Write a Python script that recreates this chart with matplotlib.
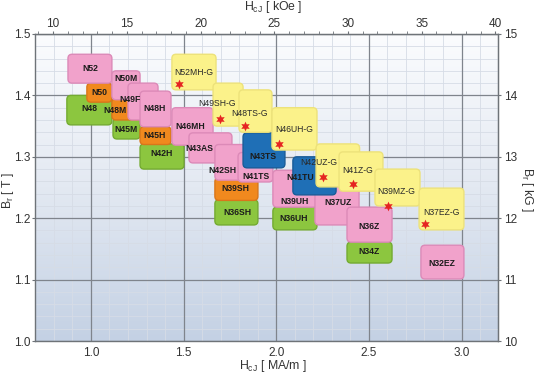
import numpy as np
import matplotlib
matplotlib.use('Agg')
import matplotlib.pyplot as plt
from matplotlib.patches import FancyBboxPatch
from matplotlib.colors import LinearSegmentedColormap
from matplotlib.ticker import MultipleLocator, FormatStrFormatter

plt.rcParams['font.family'] = ['Liberation Sans', 'DejaVu Sans']
plt.rcParams['mathtext.fontset'] = 'custom'
plt.rcParams['mathtext.rm'] = 'Liberation Sans'
plt.rcParams['mathtext.it'] = 'Liberation Sans'

# ---------------- data ----------------
names = ["N48", "N45M", "N42H", "N36SH", "N36UH", "N34Z",
         "N50", "N48M", "N45H", "N39SH",
         "N52", "N50M", "N49F", "N48H", "N46MH", "N43AS", "N42SH", "N41TS",
         "N39UH", "N37UZ", "N36Z", "N32EZ",
         "N43TS", "N41TU",
         "N52MH-G", "N49SH-G", "N48TS-G", "N46UH-G", "N42UZ-G", "N41Z-G",
         "N39MZ-G", "N37EZ-G"]
kinds = ["green"] * 6 + ["orange"] * 4 + ["pink"] * 12 + ["blue"] * 2 + ["yellow"] * 8
hcj_lo = [0.870, 1.119, 1.265, 1.669, 1.982, 2.382,
          0.978, 1.113, 1.265, 1.669,
          0.876, 1.113, 1.200, 1.265, 1.437, 1.529, 1.669, 1.794,
          1.982, 2.209, 2.382, 2.781,
          1.821, 2.090,
          1.437, 1.659, 1.799, 1.977, 2.215, 2.339, 2.533, 2.771]
hcj_hi = [1.113, 1.265, 1.502, 1.901, 2.220, 2.625,
          1.113, 1.265, 1.432, 1.901,
          1.113, 1.265, 1.362, 1.432, 1.659, 1.761, 1.901, 1.982,
          2.220, 2.447, 2.625, 3.013,
          2.047, 2.323,
          1.675, 1.821, 1.977, 2.220, 2.450, 2.576, 2.776, 3.013]
br_lo = [1.352, 1.329, 1.280, 1.189, 1.181, 1.127,
         1.389, 1.360, 1.320, 1.229,
         1.420, 1.393, 1.360, 1.349, 1.319, 1.290, 1.262, 1.259,
         1.218, 1.189, 1.161, 1.101,
         1.282, 1.238,
         1.409, 1.350, 1.340, 1.311, 1.251, 1.244, 1.220, 1.181]
br_hi = [1.400, 1.362, 1.321, 1.230, 1.218, 1.161,
         1.420, 1.395, 1.349, 1.266,
         1.467, 1.440, 1.420, 1.407, 1.380, 1.339, 1.320, 1.307,
         1.278, 1.251, 1.218, 1.156,
         1.339, 1.300,
         1.467, 1.420, 1.409, 1.380, 1.321, 1.308, 1.280, 1.249]
label_x = [0.990, 1.189, 1.383, 1.788, 2.096, 2.503,
           1.043, 1.128, 1.343, 1.777,
           0.995, 1.189, 1.212, 1.345, 1.534, 1.583, 1.707, 1.891,
           2.101, 2.333, 2.501, 2.895,
           1.928, 2.131,
           1.556, 1.680, 1.858, 2.096, 2.231, 2.439, 2.649, 2.892]
label_y = [1.378, 1.345, 1.305, 1.210, 1.199, 1.145,
           1.4055, 1.375, 1.3355, 1.2476,
           1.443, 1.428, 1.393, 1.378, 1.350, 1.313, 1.2785, 1.2687,
           1.228, 1.225, 1.187, 1.127,
           1.3013, 1.2655,
           1.438, 1.3876, 1.371, 1.344, 1.290, 1.277, 1.243, 1.210]
star_x = [1.475, 1.696, 1.831, 2.015, 2.252, 2.414, 2.603, 2.803]
star_y = [1.4186, 1.3616, 1.350, 1.321, 1.267, 1.2557, 1.220, 1.191]

x_ticks = [1.0, 1.5, 2.0, 2.5, 3.0]
y_ticks = [1.0, 1.1, 1.2, 1.3, 1.4, 1.5]
koe_ticks = [10, 15, 20, 25, 30, 35, 40]
kg_ticks = [10, 11, 12, 13, 14, 15]

# ---------------- style ----------------
face = {"green": "#8cc63f", "orange": "#f0891e", "pink": "#f1a2cb",
        "blue": "#1f6fb6", "yellow": "#fbf28a"}
edge = {"green": "#74ab31", "orange": "#d9761a", "pink": "#dc8ab8",
        "blue": "#195c98", "yellow": "#ede27a"}
zbase = {"green": 2, "orange": 3, "pink": 4, "blue": 5, "yellow": 6}

W, H = 535, 374
fig = plt.figure(figsize=(W / 100, H / 100), dpi=100)
fig.patch.set_facecolor('white')
L, R, T, B = 35, 498, 34, 341
ax = fig.add_axes([L / W, 1 - B / H, (R - L) / W, (B - T) / H])

xmin, xmax = 0.698, 3.197
ymin, ymax = 1.0, 1.5
ax.set_xlim(xmin, xmax)
ax.set_ylim(ymin, ymax)

# background gradient
cmap = LinearSegmentedColormap.from_list('bg', ['#c4d1e4', '#e3e9f2', '#fbfcfe'])
grad = np.linspace(0, 1, 256).reshape(-1, 1)
ax.imshow(grad, extent=[xmin, xmax, ymin, ymax], origin='lower', aspect='auto',
          cmap=cmap, zorder=0, interpolation='bicubic')

# grid
for xv in np.arange(0.7, 3.2, 0.1):
    ax.axvline(xv, color='#d6dce6', lw=0.6, zorder=0.5)
for yv in np.arange(1.0, 1.5, 0.02):
    ax.axhline(yv, color='#d6dce6', lw=0.6, zorder=0.5)
for xv in x_ticks:
    ax.axvline(xv, color='#7f848c', lw=0.9, zorder=0.8)
for yv in y_ticks:
    ax.axhline(yv, color='#7f848c', lw=0.9, zorder=0.8)

# boxes
aspect = ((R - L) / (xmax - xmin)) / ((B - T) / (ymax - ymin))
counter = {}
for i, n in enumerate(names):
    k = kinds[i]
    counter[k] = counter.get(k, 0) + 1
    z = zbase[k] + counter[k] * 0.01
    p = FancyBboxPatch((hcj_lo[i], br_lo[i]), hcj_hi[i] - hcj_lo[i], br_hi[i] - br_lo[i],
                       boxstyle="round,pad=0,rounding_size=0.022",
                       mutation_aspect=aspect,
                       facecolor=face[k], edgecolor=edge[k], lw=1.0, zorder=z)
    ax.add_patch(p)
    gflag = n.endswith('-G')
    ax.text(label_x[i], label_y[i], n, ha='center', va='center',
            fontsize=6.2, fontweight='normal' if gflag else 'bold',
            color='#2a2a2a' if gflag else '#1c1c1c', zorder=20)

ax.plot(star_x, star_y, linestyle='none', marker=(6, 1, 0), markersize=7,
        color='#e52421', markeredgewidth=0, zorder=15)

# axes styling
for s in ax.spines.values():
    s.set_color('#6e7378')
    s.set_linewidth(1.0)
    s.set_zorder(30)

ax.set_xticks(x_ticks)
ax.xaxis.set_major_formatter(FormatStrFormatter('%.1f'))
ax.set_yticks(y_ticks)
ax.yaxis.set_major_formatter(FormatStrFormatter('%.1f'))
ax.tick_params(axis='x', length=0, pad=4, labelsize=8.5, colors='#333333')
ax.tick_params(axis='y', length=2, pad=1, labelsize=8.5, colors='#333333', direction='out')
ax.tick_params(axis='both', color='#6e7378')

k_per_ma = 1000 / 79.5775
top = ax.secondary_xaxis('top', functions=(lambda x: x * k_per_ma, lambda k: k / k_per_ma))
top.set_xticks(koe_ticks)
top.xaxis.set_minor_locator(MultipleLocator(1))
top.tick_params(axis='x', which='both', length=2.5, pad=0.5, labelsize=8.5, colors='#333333',
                direction='out')
top.tick_params(axis='x', which='both', color='#6e7378')
top.spines['top'].set_color('#6e7378')

right = ax.secondary_yaxis('right', functions=(lambda t: t * 10, lambda g: g / 10))
right.set_yticks(kg_ticks)
right.tick_params(axis='y', length=2, pad=2, labelsize=8.5, colors='#333333', direction='out')
right.tick_params(axis='y', color='#6e7378')
right.spines['right'].set_color('#6e7378')

# axis titles
fig.text(273 / W, 1 - 366 / H, r'$\mathregular{H_{cJ}}$ [ MA/m ]', ha='center', va='center',
         fontsize=8.8, color='#333333')
fig.text(273 / W, 1 - 7 / H, r'$\mathregular{H_{cJ}}$ [ kOe ]', ha='center', va='center',
         fontsize=8.8, color='#333333')
fig.text(8 / W, 1 - 190 / H, r'$\mathregular{B_r}$ [ T ]', ha='center', va='center',
         rotation=90, fontsize=8.8, color='#333333')
fig.text(527 / W, 1 - 190 / H, r'$\mathregular{B_r}$ [ kG ]', ha='center', va='center',
         rotation=-90, fontsize=8.8, color='#333333')

fig.savefig('out.png', dpi=100, facecolor='white')
